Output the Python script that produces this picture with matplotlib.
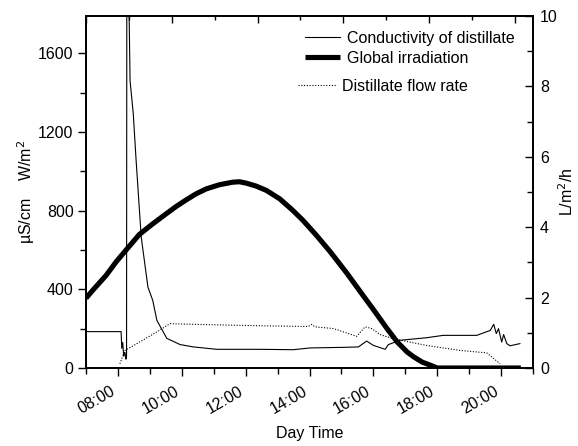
import numpy as np
import matplotlib
matplotlib.use('Agg')
import matplotlib.pyplot as plt
from matplotlib.ticker import MultipleLocator

plt.rcParams['font.family'] = ['Liberation Sans', 'DejaVu Sans']
plt.rcParams['font.size'] = 11.5

# hours of day
cond_t = [7.0, 8.10, 8.12, 8.15, 8.18, 8.22, 8.25, 8.27, 8.28, 8.35, 8.38, 8.48, 8.57,
          8.73, 8.94, 9.09, 9.22, 9.53, 9.95, 10.37, 11.10, 12.45, 13.49, 14.02, 15.06,
          15.53, 15.79, 16.0, 16.37, 16.47, 16.84, 17.67, 18.19, 19.24, 19.66, 19.77,
          19.85, 19.92, 20.02, 20.08, 20.18, 20.28, 20.59]
cond_v = [185, 185, 100, 130, 60, 80, 45, 60, 2300, 1800, 1461, 1294, 1054,
          665, 411, 344, 242, 151, 119, 107, 95, 95, 93, 102, 105,
          107, 137, 115, 95, 119, 141, 154, 166, 166, 191, 222,
          175, 200, 132, 170, 124, 113, 124]

irr_t = [7.0, 7.21, 7.63, 7.94, 8.26, 8.67, 9.09, 9.51, 9.82, 10.14, 10.45, 10.77, 11.18,
         11.60, 11.81, 12.02, 12.33, 12.65, 13.07, 13.48, 13.80, 14.22, 14.66, 15.18,
         15.60, 16.02, 16.43, 16.75, 17.06, 17.27, 17.53, 17.79, 18.0, 20.62]
irr_v = [355, 395, 471, 539, 601, 679, 733, 784, 821, 855, 886, 911, 932,
         945, 947, 940, 925, 903, 860, 801, 750, 674, 589, 480,
         386, 293, 200, 132, 81, 56, 30, 14, 0, 0]

flow_t = [8.06, 8.22, 8.59, 9.21, 9.63, 10.36, 12.45, 13.96, 14.07, 14.17, 14.75, 15.48,
          15.74, 15.95, 16.21, 16.63, 17.67, 18.71, 19.55, 19.77, 19.97]
flow_v = [0.12, 0.50, 0.69, 1.02, 1.26, 1.24, 1.20, 1.18, 1.24, 1.17, 1.12, 0.90,
          1.17, 1.12, 0.95, 0.83, 0.64, 0.50, 0.43, 0.27, 0.12]

hour_ticks = [8, 10, 12, 14, 16, 18, 20]
hour_labels = ['08:00', '10:00', '12:00', '14:00', '16:00', '18:00', '20:00']

W, H = 578, 446
fig = plt.figure(figsize=(W / 100, H / 100), dpi=100)
ax = fig.add_axes([86 / W, 1 - 368 / H, (533 - 86) / W, (368 - 16) / H])

l1, = ax.plot(cond_t, cond_v, color='black', lw=0.8, label='Conductivity of distillate')
l2, = ax.plot(irr_t, irr_v, color='black', lw=3.7, solid_capstyle='butt',
              solid_joinstyle='round', label='Global irradiation')
ax.set_xlim(7, 21)
ax.set_ylim(0, 1790)
ax.set_xticks(hour_ticks)
ax.set_xticklabels(hour_labels, rotation=30, ha='right')
ax.xaxis.set_minor_locator(MultipleLocator(1))
ax.yaxis.set_major_locator(MultipleLocator(400))
ax.yaxis.set_minor_locator(MultipleLocator(200))
ax.tick_params(axis='both', which='major', direction='out', length=6, width=1, pad=3)
ax.tick_params(axis='both', which='minor', direction='out', length=4, width=1)
ax.tick_params(axis='x', which='major', pad=5)
ax.set_xlabel('Day Time', labelpad=7)
ax.set_ylabel('µS/cm    W/m$^2$', labelpad=1)

ax2 = ax.twinx()
l3, = ax2.plot(flow_t, flow_v, color='black', lw=0.8, ls=(0, (1, 1.5)),
               label='Distillate flow rate')
ax2.set_ylim(0, 10)
ax2.yaxis.set_major_locator(MultipleLocator(2))
ax2.yaxis.set_minor_locator(MultipleLocator(1))
ax2.tick_params(axis='y', which='major', direction='in', length=6, width=1, pad=5)
ax2.tick_params(axis='y', which='minor', direction='in', length=4, width=1)
ax2.set_ylabel('L/m$^2$/h', labelpad=0)

# top axis ticks (no labels)
ax3 = ax.twiny()
ax3.set_xlim(0, 5.21)
ax3.xaxis.set_major_locator(MultipleLocator(1))
ax3.xaxis.set_minor_locator(MultipleLocator(0.5))
ax3.tick_params(axis='x', which='major', direction='in', length=5, width=1, labeltop=False)
ax3.tick_params(axis='x', which='minor', direction='in', length=3, width=1)

for a in (ax, ax2, ax3):
    for s in a.spines.values():
        s.set_linewidth(1.1)

leg1 = ax2.legend(handles=[l1, l2], loc='upper left',
                  bbox_to_anchor=(305 / W, 1 - 31 / H), bbox_transform=fig.transFigure,
                  frameon=False, handlelength=2.2, handletextpad=0.44,
                  labelspacing=0.3, borderpad=0, borderaxespad=0)
ax2.add_artist(leg1)
ax2.legend(handles=[l3], loc='upper left',
           bbox_to_anchor=(298 / W, 1 - 79 / H), bbox_transform=fig.transFigure,
           frameon=False, handlelength=2.45, handletextpad=0.3,
           borderpad=0, borderaxespad=0)

fig.savefig('out.png', dpi=100)
